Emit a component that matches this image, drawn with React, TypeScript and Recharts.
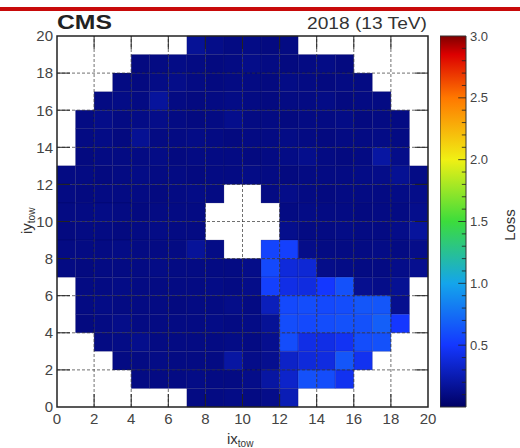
import React from 'react';
import {
  ComposedChart,
  XAxis,
  YAxis,
  ReferenceArea,
  ReferenceLine,
} from 'recharts';

const N = null;

// tower rows, top (iy = 19) to bottom (iy = 0); ix = 0..19 left to right
const rows: (number | null)[][] = [
  [N, N, N, N, N, N, N, 0.16, 0.12, 0.1, 0.11, 0.09, 0.1, N, N, N, N, N, N, N],
  [N, N, N, N, 0.09, 0.1, 0.11, 0.1, 0.09, 0.1, 0.12, 0.1, 0.09, 0.1, 0.11, 0.09, N, N, N, N],
  [N, N, N, 0.1, 0.09, 0.11, 0.12, 0.1, 0.09, 0.1, 0.1, 0.09, 0.11, 0.1, 0.09, 0.1, 0.1, N, N, N],
  [N, N, 0.1, 0.11, 0.1, 0.18, 0.1, 0.09, 0.1, 0.11, 0.1, 0.09, 0.1, 0.1, 0.11, 0.09, 0.1, 0.1, N, N],
  [N, 0.1, 0.12, 0.1, 0.11, 0.12, 0.1, 0.09, 0.1, 0.13, 0.1, 0.1, 0.09, 0.1, 0.1, 0.11, 0.09, 0.1, 0.1, N],
  [N, 0.1, 0.11, 0.09, 0.15, 0.1, 0.1, 0.11, 0.1, 0.09, 0.1, 0.1, 0.11, 0.1, 0.09, 0.1, 0.1, 0.11, 0.1, N],
  [N, 0.09, 0.1, 0.1, 0.1, 0.11, 0.09, 0.1, 0.1, 0.1, 0.09, 0.1, 0.11, 0.13, 0.1, 0.09, 0.1, 0.2, 0.12, N],
  [0.1, 0.1, 0.09, 0.1, 0.11, 0.1, 0.1, 0.09, 0.1, 0.1, 0.11, 0.1, 0.09, 0.1, 0.1, 0.1, 0.11, 0.12, 0.15, 0.11],
  [0.1, 0.09, 0.1, 0.1, 0.1, 0.09, 0.1, 0.11, 0.1, N, N, 0.1, 0.12, 0.1, 0.09, 0.1, 0.1, 0.1, 0.11, 0.12],
  [0.1, 0.1, 0.11, 0.1, 0.09, 0.1, 0.1, 0.1, N, N, N, N, 0.1, 0.11, 0.1, 0.1, 0.09, 0.1, 0.1, 0.13],
  [0.09, 0.1, 0.1, 0.09, 0.1, 0.11, 0.1, 0.1, N, N, N, N, 0.13, 0.1, 0.1, 0.11, 0.1, 0.1, 0.12, 0.18],
  [0.1, 0.1, 0.1, 0.11, 0.1, 0.1, 0.1, 0.17, 0.11, N, N, 0.56, 0.54, 0.12, 0.1, 0.1, 0.1, 0.11, 0.1, 0.12],
  [0.1, 0.09, 0.1, 0.1, 0.1, 0.11, 0.1, 0.1, 0.1, 0.1, 0.12, 0.58, 0.38, 0.36, 0.12, 0.11, 0.1, 0.1, 0.12, 0.14],
  [N, 0.1, 0.1, 0.11, 0.1, 0.1, 0.1, 0.1, 0.11, 0.1, 0.12, 0.54, 0.42, 0.4, 0.5, 0.62, 0.14, 0.12, 0.15, N],
  [N, 0.1, 0.11, 0.1, 0.1, 0.1, 0.09, 0.1, 0.1, 0.12, 0.1, 0.28, 0.58, 0.6, 0.58, 0.6, 0.64, 0.64, 0.14, N],
  [N, 0.09, 0.1, 0.12, 0.1, 0.1, 0.1, 0.1, 0.11, 0.1, 0.11, 0.16, 0.6, 0.58, 0.6, 0.62, 0.62, 0.68, 0.5, N],
  [N, N, 0.1, 0.11, 0.13, 0.1, 0.1, 0.1, 0.1, 0.11, 0.1, 0.14, 0.6, 0.42, 0.42, 0.46, 0.6, 0.62, N, N],
  [N, N, N, 0.1, 0.1, 0.11, 0.1, 0.1, 0.1, 0.2, 0.12, 0.14, 0.32, 0.38, 0.4, 0.64, 0.45, N, N, N],
  [N, N, N, N, 0.1, 0.1, 0.1, 0.11, 0.1, 0.1, 0.12, 0.2, 0.33, 0.62, 0.6, 0.45, N, N, N, N],
  [N, N, N, N, N, N, N, 0.1, 0.1, 0.11, 0.1, 0.12, 0.26, N, N, N, N, N, N, N],
];

const axisTicks = [0, 2, 4, 6, 8, 10, 12, 14, 16, 18, 20];
const innerTicks = [2, 4, 6, 8, 10, 12, 14, 16, 18];
const zTicks = [0.5, 1.0, 1.5, 2.0, 2.5, 3.0];
const zMax = 3;

// palette stops (value, rgb)
const paletteVals = [0, 0.5, 1.0, 1.5, 2.0, 2.5, 2.85, 3.0];
const paletteRgb = [
  [0, 0, 100],
  [20, 55, 255],
  [20, 165, 235],
  [60, 220, 60],
  [240, 240, 20],
  [255, 120, 0],
  [220, 0, 0],
  [128, 0, 0],
];

function colorOf(v: number) {
  let i = 0;
  while (i < paletteVals.length - 2 && v > paletteVals[i + 1]) i++;
  const t = Math.min(1, Math.max(0, (v - paletteVals[i]) / (paletteVals[i + 1] - paletteVals[i])));
  const a = paletteRgb[i];
  const b = paletteRgb[i + 1];
  const c = a.map((x, k) => Math.round(x + (b[k] - x) * t));
  return `rgb(${c[0]},${c[1]},${c[2]})`;
}

const cells: { ix: number; iy: number; v: number }[] = [];
rows.forEach((row, r) => {
  row.forEach((v, ix) => {
    if (v !== null) cells.push({ ix, iy: rows.length - 1 - r, v });
  });
});

const font = '"Liberation Sans", Arial, Helvetica, sans-serif';
const tickLen = 0.7;

const minorZ: number[] = [];
for (let k = 1; k < 30; k++) minorZ.push(k / 10);

export default function App() {
  return (
    <div
      style={{
        position: 'absolute',
        left: 0,
        top: 0,
        width: 520,
        height: 448,
        background: '#fff',
        overflow: 'hidden',
        fontFamily: font,
      }}
    >
      <ComposedChart
        width={520}
        height={448}
        data={[]}
        margin={{ top: 36, right: 92, bottom: 0, left: 0 }}
      >
        <XAxis
          type="number"
          dataKey="x"
          domain={[0, 20]}
          ticks={axisTicks}
          interval={0}
          height={41}
          tickSize={4}
          tickMargin={2}
          axisLine={false}
          tickLine={false}
          allowDataOverflow
          tick={{ fill: '#444', fontSize: 15, fontFamily: font }}
        />
        <YAxis
          type="number"
          dataKey="y"
          domain={[0, 20]}
          ticks={axisTicks}
          interval={0}
          width={57}
          tickSize={2}
          tickMargin={2}
          axisLine={false}
          tickLine={false}
          allowDataOverflow
          tick={{ fill: '#444', fontSize: 15, fontFamily: font }}
        />
        {cells.map((c) => (
          <ReferenceArea
            key={`c${c.ix}-${c.iy}`}
            x1={c.ix}
            x2={c.ix + 1}
            y1={c.iy}
            y2={c.iy + 1}
            fill={colorOf(c.v)}
            fillOpacity={1}
            stroke="#000050"
            strokeOpacity={0.25}
            strokeWidth={0.8}
            ifOverflow="visible"
          />
        ))}
        {innerTicks.map((t) => (
          <ReferenceLine
            key={`gx${t}`}
            x={t}
            stroke="#333"
            strokeOpacity={0.7}
            strokeDasharray="3 2"
          />
        ))}
        {innerTicks.map((t) => (
          <ReferenceLine
            key={`gy${t}`}
            y={t}
            stroke="#333"
            strokeOpacity={0.7}
            strokeDasharray="3 2"
          />
        ))}
        {innerTicks.map((t) => (
          <ReferenceLine
            key={`tb${t}`}
            segment={[{ x: t, y: 0 }, { x: t, y: tickLen }]}
            stroke="#222"
          />
        ))}
        {innerTicks.map((t) => (
          <ReferenceLine
            key={`tt${t}`}
            segment={[{ x: t, y: 20 }, { x: t, y: 20 - tickLen }]}
            stroke="#222"
          />
        ))}
        {innerTicks.map((t) => (
          <ReferenceLine
            key={`tl${t}`}
            segment={[{ x: 0, y: t }, { x: tickLen, y: t }]}
            stroke="#222"
          />
        ))}
        {innerTicks.map((t) => (
          <ReferenceLine
            key={`tr${t}`}
            segment={[{ x: 20, y: t }, { x: 20 - tickLen, y: t }]}
            stroke="#222"
          />
        ))}
        <ReferenceArea
          x1={0}
          x2={20}
          y1={0}
          y2={20}
          fill="none"
          stroke="#222"
          strokeWidth={1.5}
          ifOverflow="visible"
        />
      </ComposedChart>

      <div style={{ position: 'absolute', left: 440, top: 0 }}>
        <ComposedChart
          width={80}
          height={448}
          data={[]}
          margin={{ top: 36, right: 0, bottom: 41, left: 0 }}
        >
          <defs>
            <linearGradient id="zbar" x1="0" y1="1" x2="0" y2="0">
              {paletteVals.map((v, i) => (
                <stop
                  key={v}
                  offset={v / zMax}
                  stopColor={`rgb(${paletteRgb[i].join(',')})`}
                />
              ))}
            </linearGradient>
          </defs>
          <XAxis type="number" dataKey="x" domain={[0, 1]} hide allowDataOverflow />
          <YAxis
            type="number"
            dataKey="z"
            orientation="right"
            domain={[0, zMax]}
            ticks={zTicks}
            interval={0}
            width={54}
            tickSize={2}
            tickMargin={2}
            axisLine={false}
            tickLine={false}
            allowDataOverflow
            tickFormatter={(v: number) => v.toFixed(1)}
            tick={{ fill: '#444', fontSize: 13, fontFamily: font, textAnchor: 'start' }}
          />
          <ReferenceArea
            x1={0}
            x2={1}
            y1={0}
            y2={zMax}
            fill="url(#zbar)"
            fillOpacity={1}
            stroke="#333"
            strokeWidth={1}
            ifOverflow="visible"
          />
          {minorZ.map((z) => (
            <ReferenceLine
              key={`zt${z}`}
              segment={[
                { x: 1, y: z },
                { x: Math.round(z * 10) % 5 === 0 ? 0.7 : 0.84, y: z },
              ]}
              stroke="#222"
              strokeOpacity={0.8}
            />
          ))}
        </ComposedChart>
      </div>

      <svg
        width={520}
        height={448}
        style={{ position: 'absolute', left: 0, top: 0, pointerEvents: 'none' }}
        fontFamily={font}
      >
        <rect x={0} y={7} width={520} height={4} fill="#c80a0a" />
        <text
          x={57}
          y={29}
          fontSize={20}
          fontWeight="bold"
          fill="#222"
          textLength={55}
          lengthAdjust="spacingAndGlyphs"
        >
          CMS
        </text>
        <text
          x={307}
          y={29}
          fontSize={16}
          fill="#333"
          textLength={120}
          lengthAdjust="spacingAndGlyphs"
        >
          2018 (13 TeV)
        </text>
        <text x={227} y={444} fontSize={15} fill="#333">
          ix
          <tspan fontSize={10} dy={3}>
            tow
          </tspan>
        </text>
        <text
          transform="translate(32, 234) rotate(-90)"
          fontSize={15}
          fill="#333"
        >
          iy
          <tspan fontSize={10} dy={3}>
            tow
          </tspan>
        </text>
        <text
          transform="translate(515, 225) rotate(-90)"
          fontSize={15}
          fill="#333"
          textAnchor="middle"
        >
          Loss
        </text>
      </svg>
    </div>
  );
}
